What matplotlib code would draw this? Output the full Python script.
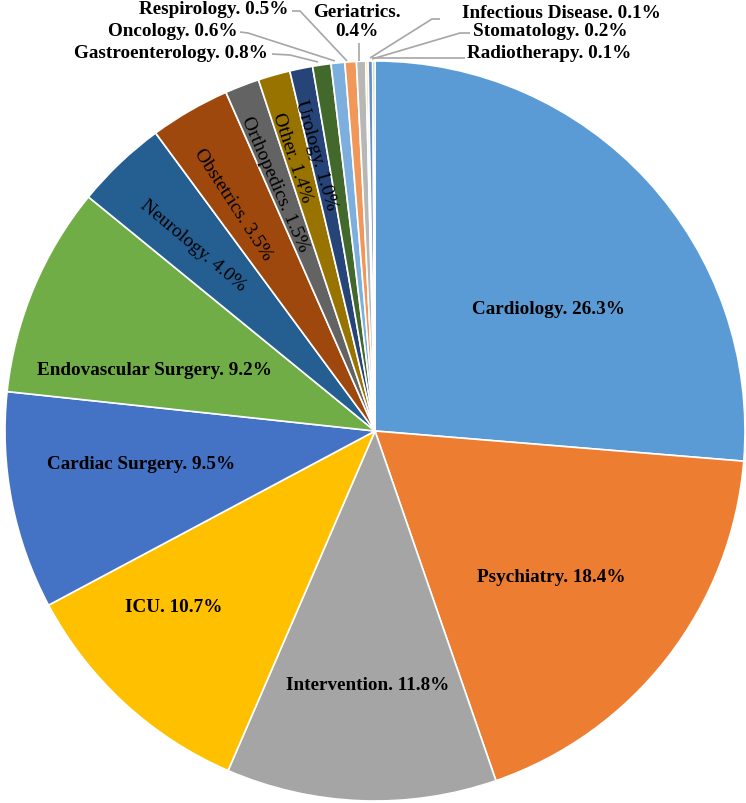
import matplotlib
matplotlib.use("Agg")
import matplotlib.pyplot as plt

# ---- data ----
categories = ["Cardiology", "Psychiatry", "Intervention", "ICU", "Cardiac Surgery",
              "Endovascular Surgery", "Neurology", "Obstetrics", "Orthopedics", "Other",
              "Urology", "Gastroenterology", "Oncology", "Respirology", "Geriatrics",
              "Infectious Disease", "Stomatology", "Radiotherapy"]
values = [26.3, 18.4, 11.8, 10.7, 9.5, 9.2, 4.0, 3.5, 1.5, 1.4, 1.0, 0.8, 0.6, 0.5, 0.4,
          0.1, 0.2, 0.1]
colors = ["#5B9BD5", "#ED7D31", "#A5A5A5", "#FFC000", "#4472C4", "#70AD47", "#255E91",
          "#9E480E", "#636363", "#997300", "#264478", "#43682B", "#7CAFDD", "#F1975A",
          "#B7B7B7", "#FFCD33", "#698ED0", "#8CC168"]

# ---- layout (image pixel coordinates, y downward) ----
W, H = 746, 804
CX, CY, R = 375, 432, 370

# inside labels: (x, y, rotation, weight)
inside = {
    "Cardiology": (548, 310, 0, "bold"),
    "Psychiatry": (551, 578, 0, "bold"),
    "Intervention": (368, 686, 0, "bold"),
    "ICU": (174, 608, 0, "bold"),
    "Cardiac Surgery": (141, 465, 0, "bold"),
    "Endovascular Surgery": (154, 371, 0, "bold"),
    "Neurology": (193, 246, -40, "normal"),
    "Obstetrics": (233, 205, -57, "normal"),
    "Orthopedics": (275, 184, -66.5, "normal"),
    "Other": (292, 158, -71.6, "normal"),
    "Urology": (316, 155, -74, "normal"),
}
# outside labels: text position (x, y, ha), leader polyline
outside = {
    "Respirology": ((288, 10, "right"), [(292, 12), (300, 12), (347, 62)]),
    "Oncology": ((237, 32, "right"), [(240, 33), (248, 34), (335, 62)]),
    "Gastroenterology": ((268, 53, "right"), [(272, 55), (290, 56), (318, 63)]),
    "Geriatrics": ((357, 22, "center"), [(359, 44), (359, 62)]),
    "Infectious Disease": ((462, 14, "left"), [(440, 20), (432, 20), (370, 59)]),
    "Stomatology": ((473, 32, "left"), [(470, 34), (460, 34), (372, 60)]),
    "Radiotherapy": ((467, 53, "left"), [(465, 59), (372, 59)]),
}

plt.rcParams['font.family'] = ['Liberation Serif', 'DejaVu Serif']

fig = plt.figure(figsize=(W / 100, H / 100), dpi=100)
ax = fig.add_axes([0, 0, 1, 1])
ax.axis('off')

ax.pie(values, colors=colors, startangle=90, counterclock=False,
       center=(CX, H - CY), radius=R,
       wedgeprops=dict(edgecolor='white', linewidth=1.2))
ax.set_xlim(0, W)
ax.set_ylim(0, H)
ax.set_aspect('auto')

for cat, val in zip(categories, values):
    txt = f"{cat}. {val:.1f}%"
    if cat in inside:
        x, y, rot, wt = inside[cat]
        fs = 13.8 if wt == "bold" else 14
        ax.text(x, H - y, txt, ha='center', va='center', rotation=rot,
                rotation_mode='anchor', fontsize=fs, fontweight=wt, color='black')
    elif cat in outside:
        (x, y, ha), line = outside[cat]
        if cat == "Geriatrics":
            txt = f"{cat}.\n{val:.1f}%"
        ax.text(x, H - y, txt, ha=ha, va='center', fontsize=13.8, fontweight='bold',
                color='black', linespacing=1.15)
        ax.plot([p[0] for p in line], [H - p[1] for p in line], color='#A6A6A6',
                lw=1.2, solid_capstyle='butt')

fig.savefig("out.png", dpi=100)
